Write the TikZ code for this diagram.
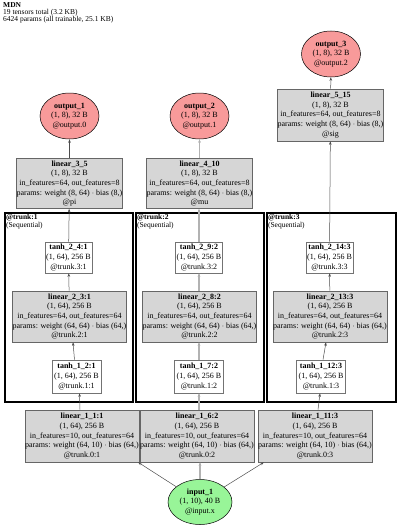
\documentclass[tikz,border=0pt]{standalone}
\usepackage{fontspec}
\setmainfont{Liberation Serif}
\usepackage{xcolor}
\usetikzlibrary{positioning, arrows.meta, shapes.geometric}

\definecolor{outred}{HTML}{F89A9A}
\definecolor{ingreen}{HTML}{98F598}

\begin{document}
\begin{tikzpicture}[
    x=1pt, y=-1pt,
    every node/.style={font=\fontsize{8}{9.7}\selectfont, align=center, inner sep=0pt},
    lin/.style={draw=black!60, fill=black!16, rectangle, line width=0.6pt},
    act/.style={draw=black!55, fill=white, rectangle, line width=0.6pt,
                minimum width=47, minimum height=31},
    outn/.style={draw, ellipse, fill=outred, line width=0.5pt,
                 minimum width=59, minimum height=46},
    clus/.style={draw, line width=2.3pt, minimum height=189},
    clab/.style={anchor=north west, align=left,
                 font=\fontsize{7.5}{8}\selectfont},
    arr/.style={-{Stealth[length=3.5pt, width=2.6pt]}, draw=black!70, line width=0.5pt},
    arrmid/.style={-{Stealth[length=3.5pt, width=2.6pt, fill=black]}, draw=black!30, line width=1.3pt}
]
\useasboundingbox (0,0) rectangle (400,527);

% header
\node[anchor=north west, align=left, font=\fontsize{7.5}{7.3}\selectfont] (title) at (3,2)
  {\textbf{MDN}\\19 tensors total (3.2 KB)\\6424 params (all trainable, 25.1 KB)};

% clusters
\node[clus, minimum width=128] (trunk1) at (69,307.5) {};
\node[clus, minimum width=128] (trunk2) at (200,307.5) {};
\node[clus, minimum width=129] (trunk3) at (331.5,307.5) {};
\node[clab] (lab1) at ([shift={(2,2)}]trunk1.north west) {\textbf{@trunk:1}\\(Sequential)};
\node[clab] (lab2) at ([shift={(2,2)}]trunk2.north west) {\textbf{@trunk:2}\\(Sequential)};
\node[clab] (lab3) at ([shift={(2,2)}]trunk3.north west) {\textbf{@trunk:3}\\(Sequential)};

% outputs
\node[outn] (out1) at (69.5,116) {\textbf{output\_1}\\(1, 8), 32 B\\@output.0};
\node[outn] (out2) at (199.5,116) {\textbf{output\_2}\\(1, 8), 32 B\\@output.1};
\node[outn] (out3) at (331,54) {\textbf{output\_3}\\(1, 8), 32 B\\@output.2};

% heads
\node[lin, minimum width=100, minimum height=50] (lin35) at (69.5,183.5)
  {\textbf{linear\_3\_5}\\(1, 8), 32 B\\in\_features=64, out\_features=8\\params: weight (8, 64) $\cdot$ bias (8,)\\@pi};
\node[lin, minimum width=100, minimum height=50] (lin410) at (199.5,183.5)
  {\textbf{linear\_4\_10}\\(1, 8), 32 B\\in\_features=64, out\_features=8\\params: weight (8, 64) $\cdot$ bias (8,)\\@mu};
\node[lin, minimum width=100, minimum height=52] (lin515) at (330.5,115)
  {\textbf{linear\_5\_15}\\(1, 8), 32 B\\in\_features=64, out\_features=8\\params: weight (8, 64) $\cdot$ bias (8,)\\@sig};

% trunk: second activation
\node[act] (tanh24) at (68.5,257.5) {\textbf{tanh\_2\_4:1}\\(1, 64), 256 B\\@trunk.3:1};
\node[act] (tanh29) at (199,257.5) {\textbf{tanh\_2\_9:2}\\(1, 64), 256 B\\@trunk.3:2};
\node[act] (tanh214) at (329.5,257.5) {\textbf{tanh\_2\_14:3}\\(1, 64), 256 B\\@trunk.3:3};

% trunk: second linear
\node[lin, minimum width=107, minimum height=51] (lin23) at (69.5,316.5)
  {\textbf{linear\_2\_3:1}\\(1, 64), 256 B\\in\_features=64, out\_features=64\\params: weight (64, 64) $\cdot$ bias (64,)\\@trunk.2:1};
\node[lin, minimum width=107, minimum height=51] (lin28) at (199.5,316.5)
  {\textbf{linear\_2\_8:2}\\(1, 64), 256 B\\in\_features=64, out\_features=64\\params: weight (64, 64) $\cdot$ bias (64,)\\@trunk.2:2};
\node[lin, minimum width=107, minimum height=51] (lin213) at (330,316.5)
  {\textbf{linear\_2\_13:3}\\(1, 64), 256 B\\in\_features=64, out\_features=64\\params: weight (64, 64) $\cdot$ bias (64,)\\@trunk.2:3};

% trunk: first activation
\node[act, minimum width=49, minimum height=33] (tanh12) at (76.5,376.5) {\textbf{tanh\_1\_2:1}\\(1, 64), 256 B\\@trunk.1:1};
\node[act, minimum width=49, minimum height=33] (tanh17) at (199,376.5) {\textbf{tanh\_1\_7:2}\\(1, 64), 256 B\\@trunk.1:2};
\node[act, minimum width=49, minimum height=33] (tanh112) at (321,376.5) {\textbf{tanh\_1\_12:3}\\(1, 64), 256 B\\@trunk.1:3};

% trunk: first linear
\node[lin, minimum width=100, minimum height=52] (lin11) at (82,436)
  {\textbf{linear\_1\_1:1}\\(1, 64), 256 B\\in\_features=10, out\_features=64\\params: weight (64, 10) $\cdot$ bias (64,)\\@trunk.0:1};
\node[lin, minimum width=100, minimum height=52] (lin16) at (197,436)
  {\textbf{linear\_1\_6:2}\\(1, 64), 256 B\\in\_features=10, out\_features=64\\params: weight (64, 10) $\cdot$ bias (64,)\\@trunk.0:2};
\node[lin, minimum width=106, minimum height=52] (lin111) at (315,436)
  {\textbf{linear\_1\_11:3}\\(1, 64), 256 B\\in\_features=10, out\_features=64\\params: weight (64, 10) $\cdot$ bias (64,)\\@trunk.0:3};

% input
\node[draw, ellipse, fill=ingreen, line width=0.5pt, minimum width=64, minimum height=45] (in1) at (200,502)
  {\textbf{input\_1}\\(1, 10), 40 B\\@input.x};

% edges, column 1
\draw[arr] (in1) -- ([xshift=-1pt]lin11.south east);
\draw[arr] ([xshift=-2pt]lin11.north) -- ([xshift=3pt]tanh12.south);
\draw[arr] ([xshift=-2pt]tanh12.north) -- ([xshift=3.5pt]lin23.south);
\draw[arr] (lin23) -- (tanh24);
\draw[arr] (tanh24) -- (lin35);
\draw[arr] (lin35) -- (out1);
% edges, column 2
\draw[arrmid] (in1.north) -- (in1.north |- lin16.south);
\draw[arrmid] (lin16.north -| tanh17) -- (tanh17.south);
\draw[arrmid] (tanh17) -- (tanh17 |- lin28.south);
\draw[arrmid] (lin28.north -| tanh29) -- (tanh29.south);
\draw[arrmid] (tanh29) -- (tanh29 |- lin410.south);
\draw[arrmid] (lin410.north -| out2) -- (out2);
% edges, column 3
\draw[arr] (in1) -- ([xshift=6pt]lin111.south west);
\draw[arr] ([xshift=3pt]lin111.north) -- ([xshift=-1pt]tanh112.south);
\draw[arr] ([xshift=2pt]tanh112.north) -- ([xshift=-4pt]lin213.south);
\draw[arr] (lin213) -- (tanh214);
\draw[arr] (tanh214) -- (lin515);
\draw[arr] (lin515) -- (out3);
\end{tikzpicture}
\end{document}
